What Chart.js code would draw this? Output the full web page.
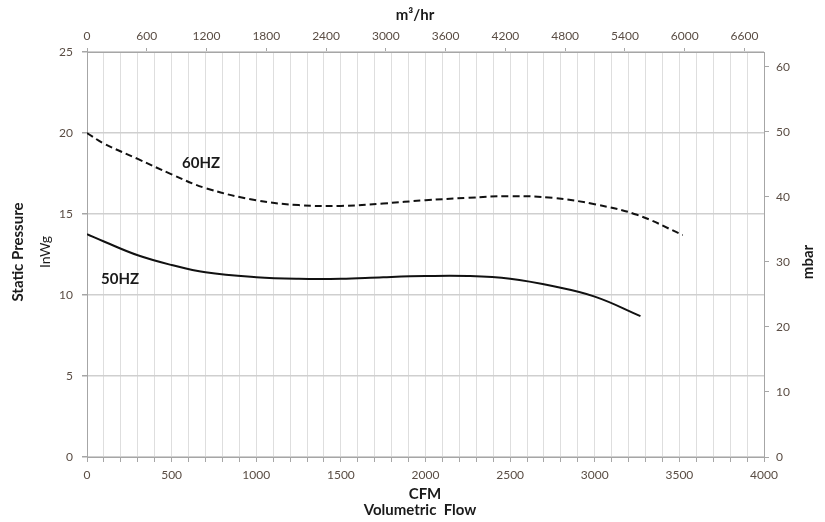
<!DOCTYPE html>
<html lang="en">
<head>
  <meta charset="UTF-8">
  <title>Fan Curve</title>
  <script src="https://cdn.jsdelivr.net/npm/chart.js"></script>
  <style>
    html, body { margin: 0; padding: 0; background: #fff; }
    #wrap { width: 825px; height: 522px; }
  </style>
</head>
<body>
<div id="wrap"><canvas id="myChart" width="825" height="522"></canvas></div>
<script>
  // CFM values and static pressure (InWg)
  const cfm60 = [0, 100, 300, 500, 700, 1000, 1250, 1500, 1750, 2000, 2250, 2500, 2750, 3000, 3250, 3520];
  const hz60  = [20.0, 19.35, 18.4, 17.45, 16.6, 15.85, 15.55, 15.5, 15.65, 15.85, 16.0, 16.1, 16.0, 15.6, 14.95, 13.7];
  const cfm50 = [0, 100, 300, 500, 700, 1000, 1250, 1500, 1750, 2000, 2250, 2500, 2750, 3000, 3270];
  const hz50  = [13.75, 13.3, 12.45, 11.85, 11.4, 11.1, 11.0, 11.0, 11.1, 11.17, 11.17, 11.0, 10.55, 9.9, 8.7];

  // secondary axis tick labels
  const m3hTicks = [0, 600, 1200, 1800, 2400, 3000, 3600, 4200, 4800, 5400, 6000, 6600];
  const mbarTicks = [0, 10, 20, 30, 40, 50, 60];

  const cfmMax = 4000;
  const inwgMax = 25;
  const m3hPerCfm = 1.699;
  const mbarPerInwg = 2.4908;

  const tickColor = '#5a4d44';
  const font = 'Lato';

  function pts(xs, ys) {
    return xs.map((x, i) => ({ x: x, y: ys[i] }));
  }

  const titles = {
    id: 'titles',
    afterDraw(chart) {
      const c = chart.ctx;
      c.save();
      c.fillStyle = '#1a1a1a';
      c.textAlign = 'center';
      c.textBaseline = 'middle';
      c.font = 'bold 15px ' + font;
      c.fillText('m\u00B3/hr', 415, 15);
      c.fillText('CFM', 425, 494);
      c.fillText('Volumetric  Flow', 420, 510);
      c.fillText('60HZ', 201, 163);
      c.fillText('50HZ', 120, 279);
      c.save();
      c.translate(18, 252);
      c.rotate(-Math.PI / 2);
      c.fillText('Static Pressure', 0, 0);
      c.restore();
      c.save();
      c.translate(45, 252);
      c.rotate(-Math.PI / 2);
      c.font = '14px ' + font;
      c.fillText('InWg', 0, 0);
      c.restore();
      c.save();
      c.translate(808, 262);
      c.rotate(-Math.PI / 2);
      c.fillText('mbar', 0, 0);
      c.restore();
      c.restore();
    }
  };

  const ctx = document.getElementById('myChart').getContext('2d');
  const myChart = new Chart(ctx, {
    type: 'scatter',
    data: {
      datasets: [{
        label: '60HZ',
        data: pts(cfm60, hz60),
        showLine: true,
        borderColor: '#111',
        borderWidth: 2,
        borderDash: [7, 4],
        pointRadius: 0,
        tension: 0.4,
        xAxisID: 'x',
        yAxisID: 'y'
      }, {
        label: '50HZ',
        data: pts(cfm50, hz50),
        showLine: true,
        borderColor: '#111',
        borderWidth: 2,
        pointRadius: 0,
        tension: 0.4,
        xAxisID: 'x',
        yAxisID: 'y'
      }]
    },
    options: {
      responsive: false,
      animation: false,
      layout: { padding: 0 },
      plugins: { legend: { display: false }, tooltip: { enabled: false } },
      scales: {
        x: {
          type: 'linear',
          position: 'bottom',
          min: 0,
          max: cfmMax,
          afterFit(s) { s.height = 65; },
          grid: { color: '#dedede', tickColor: '#a6a6a6', tickLength: 5, lineWidth: 1 },
          border: { color: '#a6a6a6' },
          ticks: {
            stepSize: 100,
            autoSkip: false,
            maxRotation: 0,
            padding: 6,
            color: tickColor,
            font: { family: font, size: 12 },
            callback: v => (v % 500 === 0 ? v : '')
          }
        },
        x2: {
          type: 'linear',
          position: 'top',
          min: 0,
          max: cfmMax * m3hPerCfm,
          afterFit(s) { s.height = 52; },
          afterBuildTicks(s) { s.ticks = m3hTicks.map(v => ({ value: v })); },
          grid: { drawOnChartArea: false, tickColor: '#a6a6a6', tickLength: 4 },
          border: { color: '#a6a6a6' },
          ticks: {
            autoSkip: false,
            maxRotation: 0,
            padding: 5,
            color: tickColor,
            font: { family: font, size: 12 },
            callback: v => String(v)
          }
        },
        y: {
          type: 'linear',
          position: 'left',
          min: 0,
          max: inwgMax,
          afterFit(s) { s.width = 87; },
          grid: { color: '#cfcfcf', tickColor: '#a6a6a6', tickLength: 5, lineWidth: 1.5 },
          border: { color: '#a6a6a6' },
          ticks: {
            stepSize: 5,
            padding: 9,
            color: tickColor,
            font: { family: font, size: 12 }
          }
        },
        y2: {
          type: 'linear',
          position: 'right',
          min: 0,
          max: inwgMax * mbarPerInwg,
          afterFit(s) { s.width = 61; },
          afterBuildTicks(s) { s.ticks = mbarTicks.map(v => ({ value: v })); },
          grid: { drawOnChartArea: false, tickColor: '#a6a6a6', tickLength: 5 },
          border: { color: '#a6a6a6' },
          ticks: {
            padding: 7,
            color: tickColor,
            font: { family: font, size: 12 },
            callback: v => String(v)
          }
        }
      }
    },
    plugins: [titles]
  });
</script>
</body>
</html>
